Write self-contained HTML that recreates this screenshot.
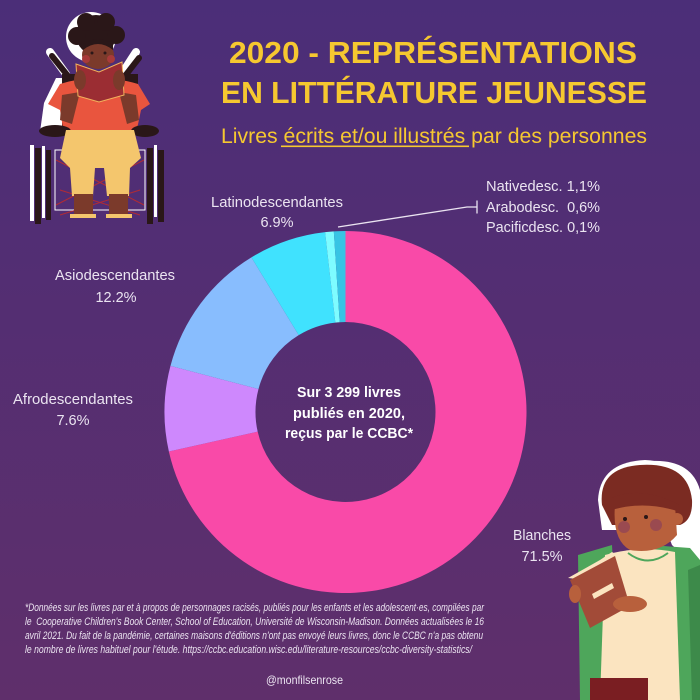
<!DOCTYPE html>
<html><head><meta charset="utf-8"><style>
html,body{margin:0;padding:0;width:700px;height:700px;overflow:hidden;background:#552f72}
svg{display:block}
</style></head><body>
<svg width="700" height="700" viewBox="0 0 700 700" xmlns="http://www.w3.org/2000/svg">
<defs>
<linearGradient id="bg" x1="0" y1="0" x2="0" y2="1">
<stop offset="0" stop-color="#4b2e78"/>
<stop offset="1" stop-color="#5f2f6b"/>
</linearGradient>
</defs>
<rect width="700" height="700" fill="url(#bg)"/>

<!-- Title -->
<g font-family="Liberation Sans, sans-serif" fill="#f6c830" text-anchor="middle">
<text x="433" y="63" font-size="31" font-weight="bold" textLength="408" lengthAdjust="spacingAndGlyphs">2020 - REPRÉSENTATIONS</text>
<text x="434" y="103" font-size="31" font-weight="bold" textLength="426" lengthAdjust="spacingAndGlyphs">EN LITTÉRATURE JEUNESSE</text>
<text x="434" y="143" font-size="21" textLength="426" lengthAdjust="spacingAndGlyphs">Livres écrits et/ou illustrés par des personnes</text>
</g>
<rect x="281" y="145.5" width="188" height="1.6" fill="#f6c830"/>

<!-- Donut -->
<path d="M345.5,231 A181,181 0 1 1 168.86,451.48 L257.67,431.63 A90,90 0 1 0 345.5,322 Z" fill="#f94aa8"/>
<path d="M168.86,451.48 A181,181 0 0 1 170.47,365.89 L258.47,389.07 A90,90 0 0 0 257.67,431.63 Z" fill="#ce88fd"/>
<path d="M170.47,365.89 A181,181 0 0 1 251.40,257.39 L298.71,335.12 A90,90 0 0 0 258.47,389.07 Z" fill="#88bdfe"/>
<path d="M251.40,257.39 A181,181 0 0 1 325.07,232.16 L335.34,322.58 A90,90 0 0 0 298.71,335.12 Z" fill="#40e2fe"/>
<path d="M325.07,232.16 A181,181 0 0 1 333.82,231.38 L339.69,322.19 A90,90 0 0 0 335.34,322.58 Z" fill="#7efcff"/>
<path d="M333.82,231.38 A181,181 0 0 1 345.5,231 L345.5,322 A90,90 0 0 0 339.69,322.19 Z" fill="#38c4e4"/>

<!-- Center text -->
<g font-family="Liberation Sans, sans-serif" fill="#ffffff" font-weight="bold" font-size="14.5" text-anchor="middle">
<text x="349" y="397" textLength="104" lengthAdjust="spacingAndGlyphs">Sur 3 299 livres</text>
<text x="349" y="418" textLength="112" lengthAdjust="spacingAndGlyphs">publiés en 2020,</text>
<text x="349" y="438" textLength="128" lengthAdjust="spacingAndGlyphs">reçus par le CCBC*</text>
</g>

<!-- Labels -->
<g font-family="Liberation Sans, sans-serif" fill="#ebe4f1" font-size="14.5">
<g text-anchor="middle">
<text x="277" y="207" textLength="132" lengthAdjust="spacingAndGlyphs">Latinodescendantes</text>
<text x="277" y="227">6.9%</text>
<text x="115" y="280" textLength="120" lengthAdjust="spacingAndGlyphs">Asiodescendantes</text>
<text x="116" y="302">12.2%</text>
<text x="73" y="404" textLength="120" lengthAdjust="spacingAndGlyphs">Afrodescendantes</text>
<text x="73" y="425">7.6%</text>
<text x="542" y="540" textLength="58" lengthAdjust="spacingAndGlyphs">Blanches</text>
<text x="542" y="561">71.5%</text>
</g>
<text x="486" y="191" textLength="114" lengthAdjust="spacingAndGlyphs">Nativedesc. 1,1%</text>
<text x="486" y="212" textLength="114" lengthAdjust="spacingAndGlyphs" xml:space="preserve">Arabodesc.  0,6%</text>
<text x="486" y="232" textLength="114" lengthAdjust="spacingAndGlyphs">Pacificdesc. 0,1%</text>
</g>
<polyline points="338,227 467,207 477,207" fill="none" stroke="#ebe4f1" stroke-width="1.3"/>
<line x1="477" y1="200.5" x2="477" y2="213.5" stroke="#ebe4f1" stroke-width="1.3"/>

<!-- Footnote -->
<g font-family="Liberation Sans, sans-serif" fill="#ebe3f0" font-size="10.8" font-style="italic">
<text x="25" y="611" textLength="459" lengthAdjust="spacingAndGlyphs">*Données sur les livres par et à propos de personnages racisés, publiés pour les enfants et les adolescent·es, compilées par</text>
<text x="25" y="625" textLength="459" lengthAdjust="spacingAndGlyphs" xml:space="preserve">le  Cooperative Children's Book Center, School of Education, Université de Wisconsin-Madison. Données actualisées le 16</text>
<text x="25" y="639" textLength="458" lengthAdjust="spacingAndGlyphs">avril 2021. Du fait de la pandémie, certaines maisons d'éditions n'ont pas envoyé leurs livres, donc le CCBC n'a pas obtenu</text>
<text x="25" y="653" textLength="447" lengthAdjust="spacingAndGlyphs">le nombre de livres habituel pour l'étude. https://ccbc.education.wisc.edu/literature-resources/ccbc-diversity-statistics/</text>
</g>
<text x="304.5" y="684" font-family="Liberation Sans, sans-serif" font-size="12" fill="#ebe4f1" text-anchor="middle" textLength="77" lengthAdjust="spacingAndGlyphs">@monfilsenrose</text>

<!-- Wheelchair kid -->
<g>
<circle cx="91" cy="37" r="25" fill="#ffffff"/>
<path d="M44 103 L56 78 L70 78 L70 130 L40 132 Z" fill="#ffffff"/>
<line x1="50" y1="52" x2="66" y2="74" stroke="#ffffff" stroke-width="8" stroke-linecap="round"/>
<line x1="52" y1="56" x2="68" y2="76" stroke="#2a1718" stroke-width="6" stroke-linecap="round"/>
<line x1="136" y1="52" x2="123" y2="72" stroke="#ffffff" stroke-width="8" stroke-linecap="round"/>
<line x1="139" y1="58" x2="125" y2="76" stroke="#2a1718" stroke-width="6" stroke-linecap="round"/>
<rect x="62" y="74" width="76" height="60" fill="#2a1718"/>
<!-- wheels -->
<rect x="30" y="145" width="4" height="76" fill="#ffffff"/>
<rect x="35" y="148" width="6" height="76" fill="#2a1718"/>
<rect x="42" y="146" width="3" height="72" fill="#ffffff"/>
<rect x="46" y="150" width="5" height="70" fill="#2a1718"/>
<rect x="147" y="148" width="6" height="76" fill="#2a1718"/>
<rect x="154" y="145" width="3" height="72" fill="#ffffff"/>
<rect x="158" y="150" width="6" height="72" fill="#2a1718"/>
<rect x="55" y="150" width="90" height="60" fill="none" stroke="#ffffff" stroke-width="1"/>
<path d="M56 160 L144 205 M56 205 L144 160 M60 190 L140 215 M60 215 L140 190" stroke="#b02b35" stroke-width="1" fill="none"/>
<!-- hair -->
<circle cx="96" cy="35" r="20" fill="#2a1718"/>
<circle cx="77" cy="36" r="9" fill="#2a1718"/>
<circle cx="116" cy="35" r="9" fill="#2a1718"/>
<circle cx="86" cy="22" r="9" fill="#2a1718"/>
<circle cx="106" cy="22" r="9" fill="#2a1718"/>
<!-- face -->
<ellipse cx="98" cy="55" rx="16" ry="14" fill="#7b3a2b"/>
<path d="M83 50 Q98 38 113 50 L113 44 Q98 34 83 44 Z" fill="#2a1718"/>
<circle cx="92" cy="53" r="1.5" fill="#2a1718"/>
<circle cx="105" cy="53" r="1.5" fill="#2a1718"/>
<circle cx="86" cy="59" r="4" fill="#a83a3a"/>
<circle cx="111" cy="59" r="4" fill="#a83a3a"/>
<!-- shirt -->
<path d="M60 84 Q98 72 138 84 L150 104 L141 110 L136 134 L64 134 L60 110 L48 104 Z" fill="#e9553e"/>
<!-- arms -->
<path d="M62 95 L60 120 L72 124 L80 92 Z" fill="#7b3a2b"/>
<path d="M136 95 L139 120 L127 124 L119 92 Z" fill="#7b3a2b"/>
<!-- book -->
<path d="M76 64 L99 72 L122 62 L124 95 L99 102 L78 96 Z" fill="#9b2d33" stroke="#f2b25c" stroke-width="1"/>
<ellipse cx="80" cy="80" rx="6" ry="10" fill="#7b3a2b"/>
<ellipse cx="119" cy="80" rx="6" ry="10" fill="#7b3a2b"/>
<!-- armrests -->
<ellipse cx="55" cy="131" rx="16" ry="6" fill="#2a1718"/>
<ellipse cx="145" cy="131" rx="14" ry="6" fill="#2a1718"/>
<!-- pants -->
<path d="M66 130 L134 130 L141 158 L130 168 L129 196 L107 196 L104 168 L95 168 L93 196 L72 196 L70 168 L60 158 Z" fill="#f4c66d"/>
<!-- legs -->
<rect x="74" y="194" width="19" height="22" fill="#7b3a2b"/>
<rect x="109" y="194" width="19" height="22" fill="#7b3a2b"/>
<rect x="70" y="214" width="26" height="4" fill="#f4c66d"/>
<rect x="106" y="214" width="26" height="4" fill="#f4c66d"/>
</g>

<!-- Boy with book -->
<g>
<path d="M640 462 Q690 455 700 490 L700 700 L688 700 L688 560 L672 545 Z" fill="#ffffff"/>
<path d="M598 500 Q600 462 645 460 Q690 462 694 500 L695 530 L602 530 Z" fill="#ffffff"/>
<!-- jacket -->
<path d="M578 555 L612 545 L620 700 L580 700 Z" fill="#4ea65b"/>
<path d="M650 545 L690 548 L700 560 L700 700 L650 700 Z" fill="#4ea65b"/>
<path d="M688 570 L700 565 L700 700 L692 700 Z" fill="#3d8a4a"/>
<!-- shirt -->
<path d="M605 555 Q640 545 675 552 L680 700 L600 700 Z" fill="#fbe4c0"/>
<path d="M628 553 Q648 568 668 553" fill="none" stroke="#4ea65b" stroke-width="2"/>
<!-- pants -->
<rect x="590" y="678" width="58" height="22" fill="#7a1e22"/>
<!-- hair -->
<path d="M602 505 Q598 468 640 465 Q688 462 692 500 Q693 520 680 525 L612 525 Z" fill="#7b2b22"/>
<!-- face -->
<path d="M615 505 Q640 495 675 505 L677 535 Q660 555 630 550 Q612 540 615 505 Z" fill="#b8603c"/>
<circle cx="677" cy="519" r="6" fill="#b8603c"/>
<path d="M612 498 Q640 485 680 505 L680 512 Q645 500 612 510 Z" fill="#7b2b22"/>
<circle cx="624" cy="527" r="6" fill="#9a4a50"/>
<circle cx="656" cy="525" r="6" fill="#9a4a50"/>
<circle cx="625" cy="519" r="2" fill="#2a1718"/>
<circle cx="646" cy="517" r="2" fill="#2a1718"/>
<!-- book -->
<path d="M568 578 L600 560 L612 552 L620 557 L586 580 Z" fill="#fbe4c0"/>
<path d="M570 580 L615 556 L630 606 L590 628 Z" fill="#a24b38"/>
<path d="M592 594 L612 583 L614 588 L594 599 Z" fill="#fbe4c0"/>
<ellipse cx="630" cy="604" rx="17" ry="8" fill="#b8603c"/>
<ellipse cx="575" cy="594" rx="6" ry="9" fill="#b8603c"/>
</g>
</svg>
</body></html>
